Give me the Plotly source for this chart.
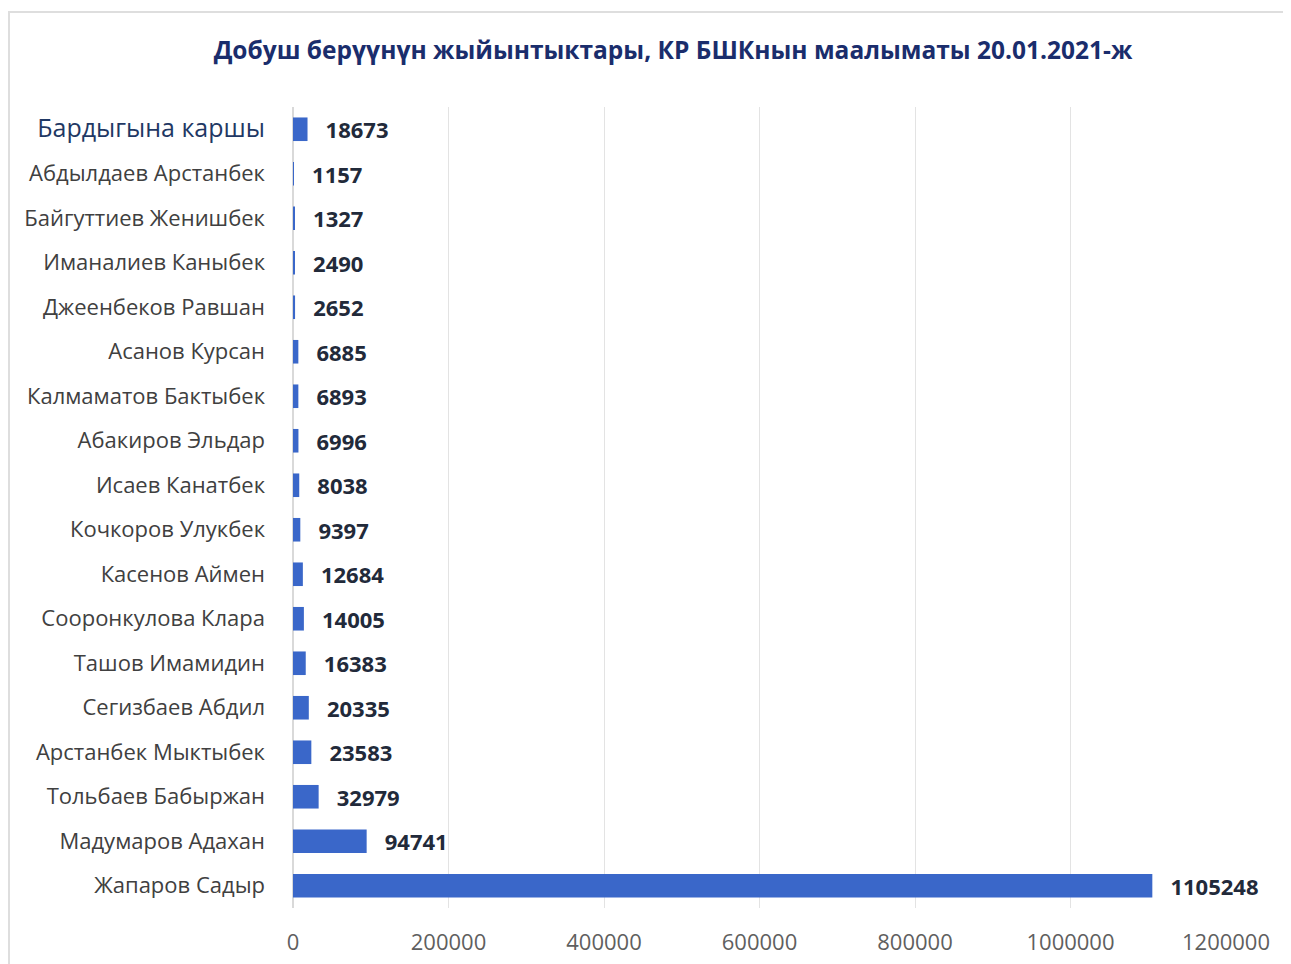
import plotly.graph_objects as go

categories = [
    "Бардыгына каршы",
    "Абдылдаев Арстанбек",
    "Байгуттиев Женишбек",
    "Иманалиев Каныбек",
    "Джеенбеков Равшан",
    "Асанов Курсан",
    "Калмаматов Бактыбек",
    "Абакиров Эльдар",
    "Исаев Канатбек",
    "Кочкоров Улукбек",
    "Касенов Аймен",
    "Сооронкулова Клара",
    "Ташов Имамидин",
    "Сегизбаев Абдил",
    "Арстанбек Мыктыбек",
    "Тольбаев Бабыржан",
    "Мадумаров Адахан",
    "Жапаров Садыр",
]
votes = [18673, 1157, 1327, 2490, 2652, 6885, 6893, 6996, 8038, 9397,
         12684, 14005, 16383, 20335, 23583, 32979, 94741, 1105248]
x_ticks = [0, 200000, 400000, 600000, 800000, 1000000, 1200000]
title_text = "Добуш берүүнүн жыйынтыктары, КР БШКнын маалыматы 20.01.2021-ж"

tick_text = []
for i, c in enumerate(categories):
    if i == 0:
        tick_text.append('<span style="font-size:25px;color:#1f3864">' + c + '</span>')
    else:
        tick_text.append(c)

fig = go.Figure()
fig.add_trace(go.Bar(
    y=categories,
    x=votes,
    orientation="h",
    marker=dict(color="#3a67c9", line=dict(width=0)),
    text=["&nbsp;&nbsp;\u2009" + str(v) for v in votes],
    textposition="outside",
    textfont=dict(family="Open Sans", size=22, color="#222a3a", weight="bold"),
    constraintext="none",
    cliponaxis=False,
    width=0.53,
))

fig.update_layout(
    width=1291,
    height=964,
    paper_bgcolor="white",
    plot_bgcolor="white",
    margin=dict(l=285, r=73, t=99, b=64),
    showlegend=False,
    title=dict(
        text=title_text,
        x=665 / 1291,
        xanchor="center",
        xref="container",
        y=1 - 42 / 964,
        yanchor="middle",
        font=dict(family="Open Sans", size=24.5, color="#1a2d6c", weight="bold"),
    ),
    font=dict(family="Open Sans"),
)
fig.update_xaxes(
    range=[0, 1200000],
    tickvals=x_ticks,
    ticktext=[str(v) for v in x_ticks],
    showgrid=True,
    gridcolor="#e3e3e3",
    gridwidth=1,
    zeroline=True,
    zerolinecolor="#d9d9d9",
    tickfont=dict(family="Open Sans", size=22, color="#5f5f5f"),
    ticks="",
    ticklabelstandoff=19,
    showline=False,
)
fig.update_yaxes(
    categoryorder="array",
    categoryarray=categories[::-1],
    tickvals=categories,
    ticktext=tick_text,
    tickfont=dict(family="Open Sans", size=22, color="#404040"),
    ticks="",
    ticklabelstandoff=27,
    showgrid=False,
    showline=False,
)

# outer chart frame
fig.add_shape(type="line", xref="paper", yref="paper",
              x0=-285 / 801 * 801 / 933, x1=1400 / 933, y0=1 + 95 / 801, y1=1 + 95 / 801,
              line=dict(color="#dedede", width=2))
fig.add_shape(type="line", xref="paper", yref="paper",
              x0=-284 / 933, x1=-284 / 933, y0=-80 / 801, y1=1 + 95 / 801,
              line=dict(color="#dedede", width=2))

fig.write_html("out.html")
